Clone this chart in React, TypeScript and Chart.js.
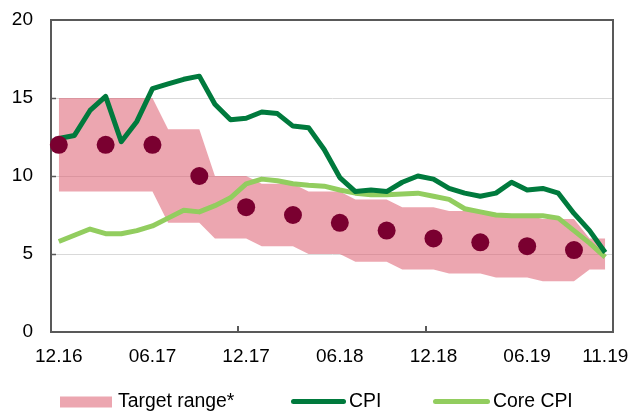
import React, { useEffect, useRef } from "react";
import { Chart, registerables } from "chart.js";

Chart.register(...registerables);

// ---- data ----
const months = [
  "12.16",
  "01.17", "02.17", "03.17", "04.17", "05.17", "06.17", "07.17", "08.17", "09.17", "10.17", "11.17", "12.17",
  "01.18", "02.18", "03.18", "04.18", "05.18", "06.18", "07.18", "08.18", "09.18", "10.18", "11.18", "12.18",
  "01.19", "02.19", "03.19", "04.19", "05.19", "06.19", "07.19", "08.19", "09.19", "10.19", "11.19",
];
const shownLabels = ["12.16", "06.17", "12.17", "06.18", "12.18", "06.19", "11.19"];
const yearMarks = ["12.17", "12.18"];

const cpi = [
  12.4, 12.6, 14.2, 15.1, 12.2, 13.5, 15.6, 15.9, 16.2, 16.4, 14.6, 13.6, 13.7,
  14.1, 14.0, 13.2, 13.1, 11.7, 9.9, 9.0, 9.1, 9.0, 9.6, 10.0, 9.8,
  9.2, 8.9, 8.7, 8.9, 9.6, 9.1, 9.2, 8.9, 7.6, 6.5, 5.1,
];
const coreCpi = [
  5.8, 6.2, 6.6, 6.3, 6.3, 6.5, 6.8, 7.3, 7.8, 7.7, 8.1, 8.6, 9.5,
  9.8, 9.7, 9.5, 9.4, 9.35, 9.1, 8.9, 8.8, 8.8, 8.85, 8.9, 8.7,
  8.5, 7.9, 7.7, 7.5, 7.45, 7.45, 7.45, 7.3, 6.5, 5.7, 4.8,
];
const targets = [
  12, null, null, 12, null, null, 12, null, null, 10, null, null, 8,
  null, null, 7.5, null, null, 7, null, null, 6.5, null, null, 6,
  null, null, 5.75, null, null, 5.5, null, null, 5.25, null, null,
];
const rangeHigh = [
  15, 15, 15, 15, 15, 15, 15, 13, 13, 13, 10, 10, 10,
  9.5, 9.5, 9.5, 9, 9, 9, 8.5, 8.5, 8.5, 8, 8, 8,
  7.75, 7.75, 7.75, 7.5, 7.5, 7.5, 7.25, 7.25, 7.25, 6, 6,
];
const rangeLow = [
  9, 9, 9, 9, 9, 9, 9, 7, 7, 7, 6, 6, 6,
  5.5, 5.5, 5.5, 5, 5, 5, 4.5, 4.5, 4.5, 4, 4, 4,
  3.75, 3.75, 3.75, 3.5, 3.5, 3.5, 3.25, 3.25, 3.25, 4, 4,
];
const yTicks = [0, 5, 10, 15, 20];

// ---- styles ----
const FONT = "Arial, 'Liberation Sans', sans-serif";
const axisColor = "#595959";
const gridColor = "#D9D9D9";
const bandColor = "rgba(220, 93, 111, 0.55)";
const cpiColor = "#007A3D";
const coreColor = "#92CD5F";
const dotColor = "#7A0030";

const decorPlugin = {
  id: "decor",
  beforeDatasetsDraw(chart: any) {
    const { ctx, chartArea: a, scales } = chart;
    const x = scales.x;
    const y = scales.y;
    ctx.save();
    ctx.strokeStyle = axisColor;
    ctx.lineWidth = 2;
    ctx.beginPath();
    ctx.moveTo(a.left, a.top);
    ctx.lineTo(a.right, a.top);
    ctx.lineTo(a.right, a.bottom);
    ctx.stroke();
    // inner tick marks on x axis at year boundaries
    ctx.beginPath();
    yearMarks.forEach((m) => {
      const i = months.indexOf(m);
      const px = Math.round((x.getPixelForValue(i - 1) + x.getPixelForValue(i)) / 2);
      ctx.moveTo(px, a.bottom);
      ctx.lineTo(px, a.bottom - 6);
    });
    ctx.stroke();
    // inner tick marks on y axis
    ctx.lineWidth = 1.5;
    ctx.beginPath();
    yTicks.slice(1, -1).forEach((v) => {
      const py = Math.round(y.getPixelForValue(v)) + 0.5;
      ctx.moveTo(a.left, py);
      ctx.lineTo(a.left + 5, py);
    });
    ctx.stroke();
    ctx.restore();
  },
  afterDraw(chart: any) {
    const { ctx } = chart;
    const yMid = 402;
    ctx.save();
    ctx.fillStyle = bandColor;
    ctx.fillRect(60, yMid - 5.5, 52, 11);
    ctx.lineCap = "round";
    ctx.lineWidth = 5;
    ctx.strokeStyle = cpiColor;
    ctx.beginPath();
    ctx.moveTo(293.5, yMid - 0.5);
    ctx.lineTo(343.5, yMid - 0.5);
    ctx.stroke();
    ctx.strokeStyle = coreColor;
    ctx.beginPath();
    ctx.moveTo(435.5, yMid - 0.5);
    ctx.lineTo(487.5, yMid - 0.5);
    ctx.stroke();
    ctx.fillStyle = "#000";
    ctx.font = `19.4px ${FONT}`;
    ctx.textBaseline = "middle";
    ctx.textAlign = "left";
    ctx.fillText("Target range*", 118, yMid);
    ctx.fillText("CPI", 349, yMid);
    ctx.fillText("Core CPI", 493, yMid);
    ctx.restore();
  },
};

export default function App() {
  const ref = useRef<HTMLCanvasElement | null>(null);

  useEffect(() => {
    document.body.style.margin = "0";
    const canvas = ref.current;
    if (!canvas) return;
    const chart = new Chart(canvas, {
      type: "line",
      data: {
        labels: months,
        datasets: [
          {
            label: "Target",
            data: targets,
            showLine: false,
            pointRadius: 9,
            pointHoverRadius: 9,
            pointBackgroundColor: dotColor,
            pointBorderColor: dotColor,
            pointBorderWidth: 0,
            borderColor: dotColor,
            backgroundColor: dotColor,
            order: 0,
          },
          {
            label: "CPI",
            data: cpi,
            borderColor: cpiColor,
            borderWidth: 5,
            pointRadius: 0,
            borderJoinStyle: "round",
            tension: 0,
            fill: false,
            order: 1,
          },
          {
            label: "Core CPI",
            data: coreCpi,
            borderColor: coreColor,
            borderWidth: 5,
            pointRadius: 0,
            borderJoinStyle: "round",
            tension: 0,
            fill: false,
            order: 2,
          },
          {
            label: "Target range*",
            data: rangeHigh,
            borderWidth: 0,
            borderColor: "rgba(0,0,0,0)",
            pointRadius: 0,
            backgroundColor: bandColor,
            fill: "+1",
            tension: 0,
            order: 3,
          },
          {
            label: "range low",
            data: rangeLow,
            borderWidth: 0,
            borderColor: "rgba(0,0,0,0)",
            pointRadius: 0,
            fill: false,
            tension: 0,
            order: 4,
          },
        ],
      },
      options: {
        animation: false,
        responsive: false,
        maintainAspectRatio: false,
        layout: { padding: { left: 0, right: 20, top: 20, bottom: 0 } },
        plugins: {
          legend: { display: false },
          tooltip: { enabled: false },
        },
        scales: {
          x: {
            type: "category",
            offset: true,
            grid: { display: true, drawOnChartArea: false, drawTicks: false, offset: true },
            border: { display: true, color: axisColor, width: 2 },
            ticks: {
              autoSkip: false,
              maxRotation: 0,
              minRotation: 0,
              padding: 13,
              color: "#000",
              font: { family: FONT, size: 19 },
              callback: (_v: any, i: number) => (shownLabels.includes(months[i]) ? months[i] : ""),
            },
            afterFit: (s: any) => {
              s.height = 80;
              s.paddingLeft = 0;
              s.paddingRight = 0;
              s.paddingTop = 0;
              s.paddingBottom = 0;
            },
          },
          y: {
            min: 0,
            max: 20,
            ticks: {
              stepSize: 5,
              padding: 18,
              color: "#000",
              font: { family: FONT, size: 19 },
            },
            grid: {
              color: (c: any) =>
                c.tick && (c.tick.value === 0 || c.tick.value === 20) ? "rgba(0,0,0,0)" : gridColor,
              lineWidth: 1,
              drawTicks: false,
            },
            border: { display: true, color: axisColor, width: 2 },
            afterFit: (s: any) => {
              s.width = 51;
              s.paddingLeft = 0;
              s.paddingRight = 0;
              s.paddingTop = 0;
              s.paddingBottom = 0;
            },
          },
        },
      },
      plugins: [decorPlugin],
    } as any);
    return () => chart.destroy();
  }, []);

  return (
    <div style={{ width: 633, height: 412 }}>
      <canvas ref={ref} width={633} height={412} style={{ display: "block" }} />
    </div>
  );
}
